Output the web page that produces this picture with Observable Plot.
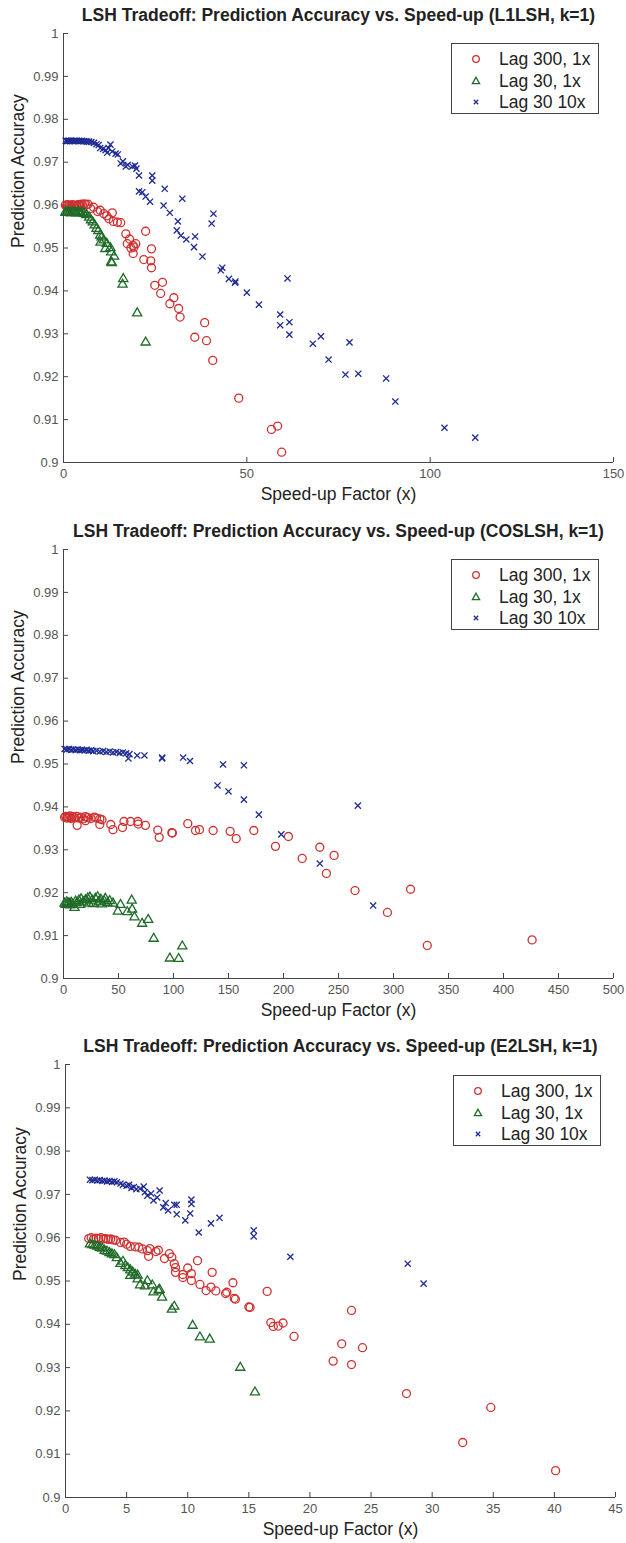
<!DOCTYPE html>
<html><head><meta charset="utf-8">
<script src="https://cdn.jsdelivr.net/npm/d3@7"></script>
<script src="https://cdn.jsdelivr.net/npm/@observablehq/plot@0.6"></script>
<style>
body{margin:0;background:#fff;font-family:"Liberation Sans",Arial,Helvetica,sans-serif;}
.panel{position:relative;width:626px;}
.panel svg{display:block;}
.legend{position:absolute;width:148px;height:71px;border:1px solid #444;background:#fff;box-sizing:border-box;}
.legend .row{position:absolute;left:0;height:20px;width:146px;}
.legend .row svg{position:absolute;left:17px;top:3px;}
.legend .row span{position:absolute;left:47px;top:0;font-size:17.5px;line-height:20px;color:#222;white-space:nowrap;}
</style></head>
<body><div id="root"></div>
<script>
const SERIES = ["Lag 300, 1x", "Lag 30, 1x", "Lag 30 10x"];
const COLORS = ["#cf3030", "#1f6b28", "#1f2b93"];
const SYMBOLS = ["circle", "triangle", "times"];
const Y_TICKS = [0.9, 0.91, 0.92, 0.93, 0.94, 0.95, 0.96, 0.97, 0.98, 0.99, 1];
const L1_X_TICKS = [0, 50, 100, 150];
const COS_X_TICKS = [0, 50, 100, 150, 200, 250, 300, 350, 400, 450, 500];
const E2_X_TICKS = [0, 5, 10, 15, 20, 25, 30, 35, 40, 45];
const TITLES = [
  "LSH Tradeoff: Prediction Accuracy vs. Speed-up (L1LSH, k=1)",
  "LSH Tradeoff: Prediction Accuracy vs. Speed-up (COSLSH, k=1)",
  "LSH Tradeoff: Prediction Accuracy vs. Speed-up (E2LSH, k=1)"
];

// ---- L1LSH ----
const L1_LAG300 = [[0.5,0.9600],[0.8,0.9598],[1.1,0.9601],[1.4,0.9599],[1.7,0.9600],[2.0,0.9598],[2.4,0.9601],[2.8,0.9599],[3.2,0.9600],[3.6,0.9598],[4.0,0.9601],[4.4,0.9600],[4.8,0.9602],[5.2,0.9600],[5.7,0.9603],[6.2,0.9601],[6.7,0.9602],
  [7.4,0.9592],[8.2,0.9595],[9.3,0.9585],[10.0,0.9588],[11.0,0.9580],[11.8,0.9575],[12.4,0.9568],[13.3,0.9582],[13.6,0.9562],[14.7,0.9560],[15.6,0.9559],[17.0,0.9533],[17.4,0.9510],[18.0,0.9521],[18.4,0.9500],[19.0,0.9506],[19.2,0.9502],[19.7,0.9510],[19.0,0.9487],[21.9,0.9473],[22.4,0.9539],[24.0,0.9498],[23.8,0.9470],[24.0,0.9454],[24.9,0.9413],[27.0,0.9420],[26.5,0.9394],[30.1,0.9384],[29.0,0.9370],[31.4,0.9359],[31.8,0.9339],[38.5,0.9326],[35.8,0.9292],[39.0,0.9284],[40.7,0.9238],[47.8,0.9150],[56.7,0.9077],[58.4,0.9085],[59.5,0.9024]];
const L1_LAG30 = [[0.5,0.9583],[0.8,0.9582],[1.1,0.9584],[1.4,0.9582],[1.7,0.9583],[2.0,0.9581],[2.4,0.9584],[2.8,0.9582],[3.2,0.9583],[3.6,0.9581],[4.0,0.9584],[4.4,0.9582],[4.8,0.9581],[5.2,0.9583],[5.6,0.9580],
  [6.2,0.9577],[7.0,0.9571],[7.5,0.9565],[8.0,0.9560],[8.5,0.9553],[9.0,0.9545],[9.5,0.9540],[10.0,0.9529],[10.4,0.9525],[11.0,0.9518],[11.8,0.9510],[10.1,0.9513],[11.4,0.9498],[12.8,0.9500],[13.0,0.9490],[13.8,0.9480],[13.0,0.9467],[13.2,0.9465],[16.3,0.9428],[16.1,0.9415],[20.1,0.9348],[22.4,0.9280]];
const L1_LAG30_10X = [[0.6,0.9750],[0.9,0.9749],[1.2,0.9750],[1.5,0.9750],[1.8,0.9749],[2.1,0.9750],[2.4,0.9750],[2.8,0.9749],[3.1,0.9750],[3.5,0.9750],[3.9,0.9749],[4.3,0.9750],[4.7,0.9749],[5.1,0.9750],[5.5,0.9749],[6.0,0.9749],[6.5,0.9748],[7.0,0.9748],
  [7.6,0.9747],[8.3,0.9745],[9.0,0.9742],[9.6,0.9740],[10.0,0.9733],[10.8,0.9731],[11.5,0.9728],[12.3,0.9733],[12.8,0.9741],[11.9,0.9722],[13.3,0.9725],[14.2,0.9720],[14.8,0.9718],[15.6,0.9697],[16.2,0.9702],[17.0,0.9690],[17.5,0.9694],[18.8,0.9690],[19.5,0.9692],[19.9,0.9685],[20.6,0.9669],[21.5,0.9630],[20.6,0.9632],[22.4,0.9620],[23.6,0.9608],[24.2,0.9669],[24.2,0.9657],[27.6,0.9638],[27.3,0.9599],[29.0,0.9582],[32.4,0.9615],[31.2,0.9562],[30.9,0.9541],[32.0,0.9529],[33.5,0.9520],[35.9,0.9527],[35.6,0.9502],[37.9,0.9480],[40.9,0.9580],[40.4,0.9557],[42.9,0.9448],[43.3,0.9454],[45.1,0.9428],[46.8,0.9419],[46.9,0.9422],[50.0,0.9396],[53.3,0.9368],[61.1,0.9429],[59.1,0.9345],[59.1,0.9320],[61.6,0.9327],[61.6,0.9298],[68.0,0.9277],[70.2,0.9294],[72.3,0.9240],[76.9,0.9205],[78.0,0.9280],[80.4,0.9207],[88.0,0.9196],[90.5,0.9142],[103.9,0.9081],[112.3,0.9058]];

// ---- COSLSH ----
const COS_LAG300 = [[1,0.9376],[2,0.9378],[3,0.9374],[4,0.9377],[5,0.9375],[6,0.9379],[7,0.9373],[8,0.9377],[10,0.9375],[12,0.9378],[14,0.9374],[16,0.9376],[18,0.9372],[20,0.9377],[22,0.9375],[25,0.9373],[28,0.9376],[30,0.9374],[33,0.9372],
  [12.4,0.9357],[20,0.9368],[33,0.9359],[35,0.9370],[43,0.9359],[45,0.9347],[53.6,0.9352],[55,0.9366],[61,0.9366],[67.6,0.9366],[68,0.9360],[74.5,0.9357],[85.7,0.9346],[87,0.9329],[98.5,0.9340],[99,0.9339],[113,0.9361],[120,0.9345],[123.6,0.9347],[136,0.9345],[151.5,0.9343],[157,0.9326],[173,0.9345],[192.7,0.9308],[204.5,0.9331],[217,0.9280],[233,0.9306],[246,0.9287],[239,0.9245],[265,0.9205],[315.5,0.9208],[294.5,0.9154],[330.7,0.9077],[426,0.9090]];
const COS_LAG30 = [[1,0.9175],[2,0.9172],[3,0.9178],[4,0.9174],[5,0.9176],[6,0.9171],[7,0.9177],[8,0.9173],[10,0.9165],[11,0.9180],[12,0.9176],[14,0.9182],[15,0.9172],[16,0.9185],[18,0.9178],[20,0.9183],[22,0.9187],[23,0.9175],[24,0.9189],[26,0.9182],[27,0.9174],[29,0.9186],[31,0.9190],[32,0.9178],[34,0.9184],[35,0.9173],[37,0.9180],[38,0.9186],[40,0.9176],[42,0.9181],[45,0.9175],
  [51.8,0.9172],[49.4,0.9156],[58,0.9155],[62,0.9182],[62.4,0.9161],[64.5,0.9143],[71.5,0.9128],[77,0.9137],[82,0.9093],[96.7,0.9047],[104.7,0.9046],[108,0.9075]];
const COS_LAG30_10X = [[1,0.9535],[3,0.9534],[5,0.9535],[7,0.9533],[9,0.9534],[11,0.9533],[13,0.9534],[15,0.9532],[17,0.9533],[19,0.9532],[21,0.9533],[23,0.9531],[25,0.9532],[27,0.9530],[30,0.9531],[33,0.9529],[36,0.9530],[39,0.9528],[42,0.9529],[45,0.9527],[48,0.9528],[51,0.9526],[54,0.9527],[57,0.9525],
  [59,0.9513],[60,0.9523],[67,0.9520],[73.6,0.9520],[89.7,0.9515],[89.7,0.9513],[108.8,0.9515],[115,0.9507],[145,0.9499],[164,0.9497],[140,0.9450],[150,0.9436],[164,0.9417],[177.6,0.9382],[198,0.9336],[233,0.9268],[267.6,0.9403],[281.5,0.9170]];

// ---- E2LSH ----
const E2_LAG300 = [[1.9,0.9598],[2.1,0.9600],[2.3,0.9597],[2.5,0.9599],[2.7,0.9598],[2.9,0.9600],[3.1,0.9597],[3.3,0.9598],[3.5,0.9596],[3.7,0.9597],[3.9,0.9595],[4.1,0.9594],
  [4.5,0.9589],[4.8,0.9590],[5.0,0.9585],[5.3,0.9580],[5.7,0.9579],[6.0,0.9578],[6.3,0.9574],[6.7,0.9570],[6.9,0.9575],[7.4,0.9568],[6.8,0.9557],[7.6,0.9571],[8.1,0.9552],[8.5,0.9563],[8.7,0.9555],[8.9,0.9540],[9.0,0.9531],[9.0,0.9520],[9.6,0.9515],[9.6,0.9508],[10.0,0.9530],[10.3,0.9517],[10.3,0.9501],[10.8,0.9547],[11.0,0.9492],[11.5,0.9478],[11.9,0.9486],[12.0,0.9520],[12.3,0.9477],[13.1,0.9471],[13.2,0.9474],[13.7,0.9496],[13.8,0.9460],[13.9,0.9458],[15.0,0.9440],[15.1,0.9439],[16.5,0.9476],[16.8,0.9404],[17.0,0.9395],[17.4,0.9396],[17.8,0.9403],[18.7,0.9372],[21.9,0.9315],[22.6,0.9355],[23.4,0.9432],[23.4,0.9307],[24.3,0.9346],[27.9,0.9240],[32.5,0.9127],[34.8,0.9208],[40.1,0.9062]];
const E2_LAG30 = [[2.0,0.9585],[2.2,0.9583],[2.4,0.9582],[2.6,0.9580],[2.8,0.9577],[3.0,0.9575],[3.2,0.9570],[3.4,0.9568],[3.6,0.9565],[3.8,0.9562],[4.0,0.9560],[4.2,0.9553],[4.5,0.9540],[4.7,0.9545],[4.9,0.9535],[5.1,0.9530],[5.3,0.9525],[5.5,0.9520],[5.7,0.9515],[5.9,0.9513],[5.3,0.9512],[5.9,0.9504],[6.1,0.9490],[6.5,0.9488],[6.7,0.9500],[7.1,0.9490],[7.2,0.9474],[7.6,0.9478],[7.7,0.9480],[7.9,0.9462],[8.7,0.9434],[8.9,0.9441],[10.4,0.9397],[11.0,0.9370],[11.8,0.9365],[14.3,0.9300],[15.5,0.9243]];
const E2_LAG30_10X = [[2.0,0.9734],[2.2,0.9733],[2.4,0.9734],[2.6,0.9732],[2.8,0.9733],[3.0,0.9731],[3.2,0.9732],[3.4,0.9730],[3.6,0.9731],[3.8,0.9729],[4.0,0.9730],[4.2,0.9728],
  [4.5,0.9725],[4.7,0.9722],[5.0,0.9720],[5.2,0.9722],[5.4,0.9715],[5.6,0.9717],[5.8,0.9712],[6.1,0.9713],[6.4,0.9718],[6.5,0.9705],[6.7,0.9697],[7.0,0.9702],[7.2,0.9686],[7.5,0.9693],[7.7,0.9709],[8.0,0.9670],[8.2,0.9680],[8.4,0.9663],[8.9,0.9676],[9.1,0.9676],[9.1,0.9654],[9.8,0.9640],[10.2,0.9656],[10.3,0.9678],[10.3,0.9688],[10.9,0.9612],[11.9,0.9633],[12.6,0.9646],[15.4,0.9617],[15.4,0.9603],[18.4,0.9556],[28.0,0.9540],[29.3,0.9494]];

const PANELS = [
  {title: TITLES[0], xTicks: L1_X_TICKS, sets: [L1_LAG300, L1_LAG30, L1_LAG30_10X], height: 516, marginTop: 33, marginBottom: 54, marginLeft: 63, marginRight: 13},
  {title: TITLES[1], xTicks: COS_X_TICKS, sets: [COS_LAG300, COS_LAG30, COS_LAG30_10X], height: 516, marginTop: 33, marginBottom: 54, marginLeft: 63, marginRight: 13},
  {title: TITLES[2], xTicks: E2_X_TICKS, sets: [E2_LAG300, E2_LAG30, E2_LAG30_10X], height: 511, marginTop: 32, marginBottom: 46, marginLeft: 65, marginRight: 11}
];

const root = document.getElementById("root");
const AXIS_COLOR = "#444";
const TEXT_COLOR = "#222";
const TICK_COLOR = "#555";
const RADII = [4, 3.4, 2.9];

for (const p of PANELS) {
  const xDomain = [p.xTicks[0], p.xTicks[p.xTicks.length - 1]];
  const marks = [
    Plot.ruleX([xDomain[0]], {stroke: AXIS_COLOR, strokeWidth: 1}),
    Plot.ruleY([Y_TICKS[0]], {stroke: AXIS_COLOR, strokeWidth: 1}),
    Plot.axisX(p.xTicks, {tickSize: -5, tickPadding: 11, fontSize: 13, color: TICK_COLOR, stroke: AXIS_COLOR, label: null, tickFormat: d => String(d)}),
    Plot.axisY(Y_TICKS, {tickSize: -5, tickPadding: 10, fontSize: 13, color: TICK_COLOR, stroke: AXIS_COLOR, label: null, tickFormat: d => String(d)}),
  ];
  p.sets.forEach((data, i) => {
    marks.push(Plot.dot(data, {x: d => d[0], y: d => d[1], symbol: SYMBOLS[i], r: RADII[i], stroke: COLORS[i], fill: "none", strokeWidth: 1.3}));
  });
  marks.push(Plot.text([p.title], {frameAnchor: "top", lineAnchor: "middle", dy: -18, fontSize: 17.5, fontWeight: "bold", fill: TEXT_COLOR}));
  marks.push(Plot.text(["Speed-up Factor (x)"], {frameAnchor: "bottom", lineAnchor: "middle", dy: 32, fontSize: 17.5, fill: TEXT_COLOR}));
  marks.push(Plot.text(["Prediction Accuracy"], {frameAnchor: "left", lineAnchor: "middle", dx: -45, rotate: -90, fontSize: 17.5, fill: TEXT_COLOR}));

  const chart = Plot.plot({
    width: 626, height: p.height,
    marginTop: p.marginTop, marginBottom: p.marginBottom, marginLeft: p.marginLeft, marginRight: p.marginRight,
    x: {domain: xDomain},
    y: {domain: [Y_TICKS[0], Y_TICKS[Y_TICKS.length - 1]]},
    style: {fontFamily: '"Liberation Sans", Arial, Helvetica, sans-serif', background: "#fff", overflow: "visible"},
    marks
  });
  const div = document.createElement("div");
  div.className = "panel";
  div.style.height = p.height + "px";
  div.appendChild(chart);

  const leg = document.createElement("div");
  leg.className = "legend";
  leg.style.left = (p.marginLeft === 65 ? 453 : 451) + "px";
  leg.style.top = "43px";
  SERIES.forEach((name, i) => {
    const row = document.createElement("div");
    row.className = "row";
    row.style.top = (5 + i * 21.5) + "px";
    let sym;
    if (i === 0) sym = `<circle cx="7" cy="7" r="3.3" fill="none" stroke="${COLORS[i]}" stroke-width="1.3"/>`;
    else if (i === 1) sym = `<path d="M7,3.2 L10.6,9.6 L3.4,9.6 Z" fill="none" stroke="${COLORS[i]}" stroke-width="1.3"/>`;
    else sym = `<path d="M4.8,4.8 L9.2,9.2 M9.2,4.8 L4.8,9.2" stroke="${COLORS[i]}" stroke-width="1.3"/>`;
    row.innerHTML = `<svg width="14" height="14">${sym}</svg><span>${name}</span>`;
    leg.appendChild(row);
  });
  div.appendChild(leg);
  root.appendChild(div);
}
</script>
</body></html>
